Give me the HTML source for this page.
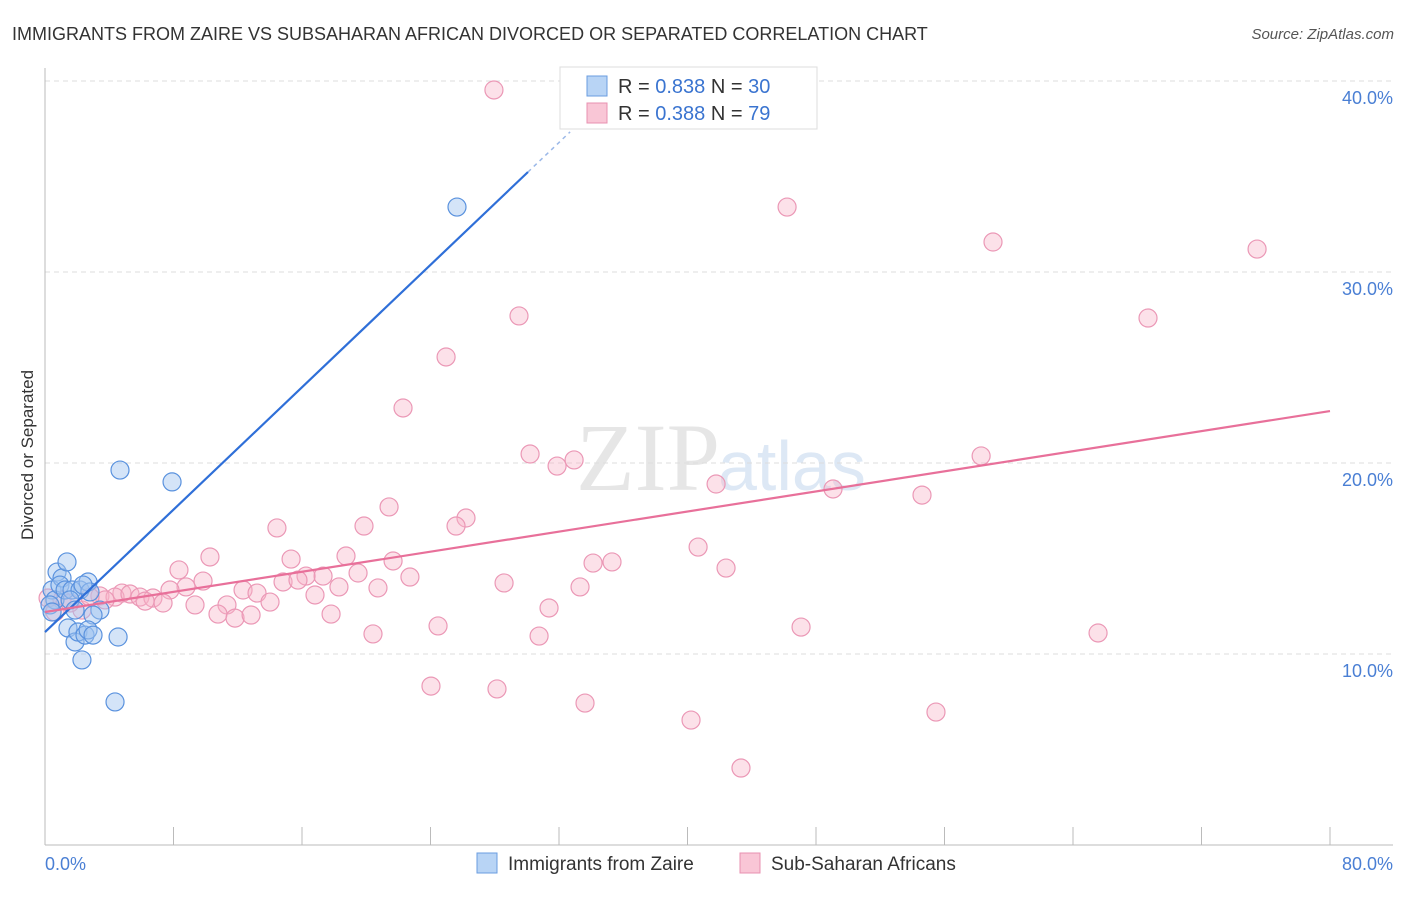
<!DOCTYPE html>
<html><head><meta charset="utf-8"><style>
body{margin:0;background:#fff;font-family:"Liberation Sans",sans-serif}
</style></head><body>
<svg width="1406" height="892" xmlns="http://www.w3.org/2000/svg" style="font-family:'Liberation Sans',sans-serif">
<text x="12" y="40" font-size="18" fill="#333">IMMIGRANTS FROM ZAIRE VS SUBSAHARAN AFRICAN DIVORCED OR SEPARATED CORRELATION CHART</text>
<text x="1394" y="39" font-size="15" fill="#555" font-style="italic" text-anchor="end">Source: ZipAtlas.com</text>
<text x="720" y="490" font-size="96" fill="#e6e6e6" text-anchor="end" font-family="Liberation Serif">ZIP</text>
<text x="718" y="490" font-size="70" fill="#dde8f5">atlas</text>
<g id="grid"></g>
<line x1="45" y1="68" x2="45" y2="845" stroke="#bbb"/>
<line x1="45" y1="845" x2="1393" y2="845" stroke="#bbb"/>
<g id="ticks"></g>
<text transform="translate(33,455) rotate(-90)" font-size="17" fill="#333" text-anchor="middle">Divorced or Separated</text>
<text x="45" y="870" font-size="18" fill="#4a7fd4">0.0%</text>
<text x="1393" y="870" font-size="18" fill="#4a7fd4" text-anchor="end">80.0%</text>
<g id="pink"></g><g id="blue"></g><g id="lines"></g>
<g>
<rect x="560" y="67" width="257" height="62" fill="#fff" stroke="#ddd"/>
<rect x="587" y="76" width="20" height="20" fill="#b8d4f5" stroke="#6a9de0"/>
<rect x="587" y="103" width="20" height="20" fill="#f9c6d6" stroke="#e890b0"/>
<text x="618" y="93" font-size="20" fill="#333">R = <tspan fill="#3a74d0">0.838</tspan>   N = <tspan fill="#3a74d0">30</tspan></text>
<text x="618" y="120" font-size="20" fill="#333">R = <tspan fill="#3a74d0">0.388</tspan>   N = <tspan fill="#3a74d0">79</tspan></text>
</g>
<g>
<rect x="477" y="853" width="20" height="20" fill="#b8d4f5" stroke="#6a9de0"/>
<text x="508" y="870" font-size="19" fill="#333">Immigrants from Zaire</text>
<rect x="740" y="853" width="20" height="20" fill="#f9c6d6" stroke="#e890b0"/>
<text x="771" y="870" font-size="19" fill="#333">Sub-Saharan Africans</text>
</g>
</svg>
<script>
const yTicks=[10,20,30,40];
const xTicks=[0,8,16,24,32,40,48,56,64,72,80];
const blueX=[0.44,0.62,0.31,0.75,1.06,1.37,0.93,1.25,1.68,2.18,1.56,1.87,2.68,2.80,2.37,3.42,2.99,1.43,1.87,2.05,2.49,2.30,2.68,2.99,4.55,4.36,4.67,7.91,25.65,0.44];
const blueY=[13.35,12.83,12.57,14.29,13.98,14.82,13.61,13.35,13.35,13.35,12.83,12.30,13.77,13.25,13.61,12.30,12.04,11.36,10.63,11.15,10.99,9.69,11.26,10.99,10.89,7.49,19.63,19.01,33.40,12.20];
const pinkX=[27.95,46.20,59.02,75.46,29.51,68.67,24.97,22.29,30.20,31.88,32.94,58.28,41.78,49.06,54.60,21.42,26.21,25.59,19.86,14.44,40.66,10.27,15.32,18.74,21.67,34.12,35.30,8.34,42.40,17.31,19.49,16.25,22.72,9.84,14.82,15.75,28.58,33.31,8.78,7.78,18.30,20.73,12.33,13.20,16.81,4.79,3.42,4.36,5.29,5.91,6.72,6.23,7.35,3.74,9.34,11.33,14.01,31.38,10.77,11.83,12.83,17.81,2.30,1.06,2.80,65.56,47.07,24.47,20.42,30.76,24.03,28.14,33.62,40.22,55.47,43.33,0.62,1.56,0.19];
const pinkY=[39.53,33.40,31.57,31.20,27.70,27.59,25.55,22.88,20.47,19.84,20.16,20.37,18.90,18.64,18.32,17.70,17.12,16.70,16.70,16.60,15.60,15.08,14.97,15.13,14.87,14.76,14.82,14.40,14.50,14.08,14.24,14.08,14.03,13.82,13.77,13.87,13.72,13.51,13.51,13.35,13.51,13.46,13.35,13.19,13.09,13.19,13.04,12.98,13.14,12.98,12.93,12.77,12.67,12.83,12.57,12.57,12.72,12.41,12.09,11.88,12.04,12.09,12.30,12.83,12.98,11.10,11.41,11.47,11.05,10.94,8.32,8.17,7.43,6.54,6.96,4.03,12.20,12.67,12.93];
const blueTrend=[11.15,0.801];
const blueSolidEnd=30.07, blueDashEnd=32.69;
const pinkTrend=[12.20,0.1315];
const NS='http://www.w3.org/2000/svg';
const sx=v=>45+v/80*1285;
const sy=v=>845-v*19.1;
function mk(tag,attrs,parent){const e=document.createElementNS(NS,tag);for(const k in attrs)e.setAttribute(k,attrs[k]);document.getElementById(parent).appendChild(e);return e;}
yTicks.forEach(t=>{
 const l=mk('line',{x1:45,x2:1393,y1:sy(t),y2:sy(t),stroke:'#ddd','stroke-dasharray':'5,4'},'grid');
 
 
 const tx=mk('text',{x:1393,y:sy(t)+23,'font-size':18,fill:'#4a7fd4','text-anchor':'end'},'grid');
 tx.textContent=t.toFixed(1)+'%';
 
 
});
xTicks.forEach(t=>{
 const l=mk('line',{x1:sx(t),x2:sx(t),y1:827,y2:845,stroke:'#bbb'},'ticks');
 
 
});
pinkX.forEach((x,i)=>{
 const c=mk('circle',{cx:sx(x),cy:sy(pinkY[i]),r:9,fill:'rgba(248,180,200,0.4)',stroke:'#eb98b6','stroke-width':1.2},'pink');
 
 
});
blueX.forEach((x,i)=>{
 const c=mk('circle',{cx:sx(x),cy:sy(blueY[i]),r:9,fill:'rgba(160,195,240,0.45)',stroke:'#5a92de','stroke-width':1.2},'blue');
 
 
});
const bl=mk('line',{x1:sx(0),y1:sy(blueTrend[0]),x2:sx(blueSolidEnd),y2:sy(blueTrend[0]+blueTrend[1]*blueSolidEnd),stroke:'#2f6fd8','stroke-width':2.2},'lines');


const bd=mk('line',{x1:sx(blueSolidEnd),y1:sy(blueTrend[0]+blueTrend[1]*blueSolidEnd),x2:sx(blueDashEnd),y2:sy(blueTrend[0]+blueTrend[1]*blueDashEnd),stroke:'#9bb8e8','stroke-width':1.5,'stroke-dasharray':'4,4'},'lines');


const pl=mk('line',{x1:sx(0),y1:sy(pinkTrend[0]),x2:sx(80),y2:sy(pinkTrend[0]+pinkTrend[1]*80),stroke:'#e8709a','stroke-width':2.2},'lines');


</script>
</body></html>
